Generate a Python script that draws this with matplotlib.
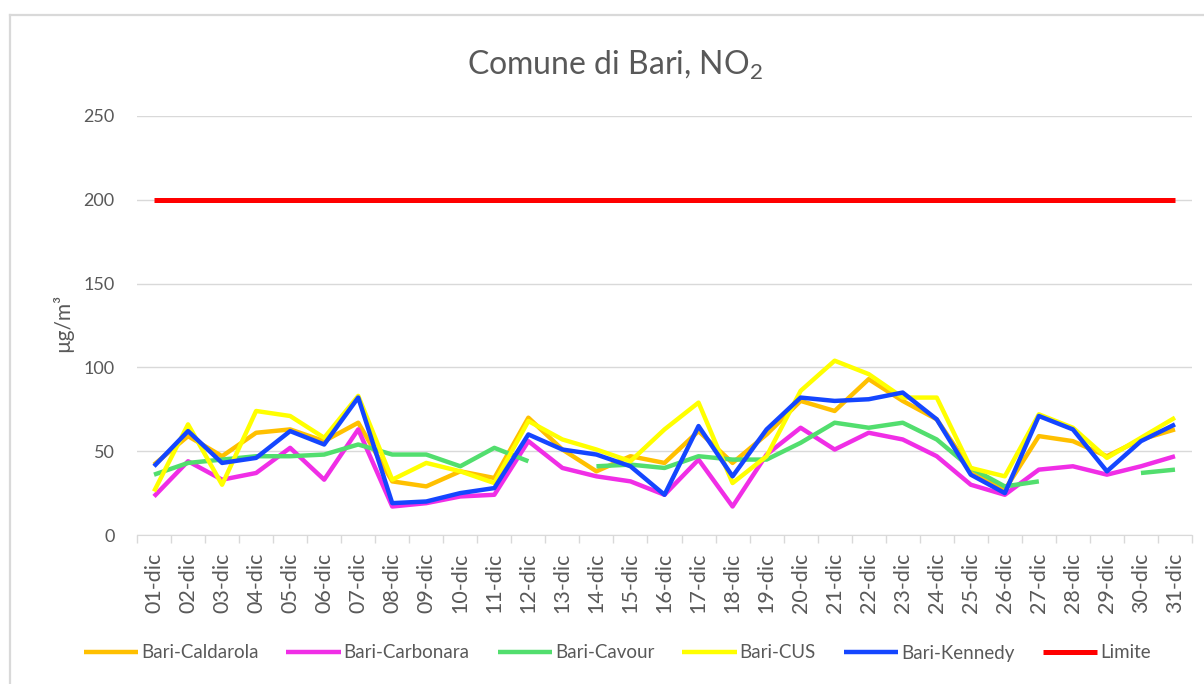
import numpy as np
import matplotlib.pyplot as plt
from matplotlib.lines import Line2D

plt.rcParams['font.family'] = ['Lato', 'DejaVu Sans']
plt.rcParams['mathtext.fontset'] = 'custom'
plt.rcParams['mathtext.rm'] = 'Lato'
plt.rcParams['mathtext.default'] = 'regular'

nan = np.nan
giorni = ['%02d-dic' % d for d in range(1, 32)]

caldarola = [42, 59, 47, 61, 63, 56, 67, 32, 29, 38, 34, 70, 51, 38, 47, 43,
             62, 43, 60, 80, 74, 93, 80, 69, 39, 27, 59, 56, 47, 57, 63]
carbonara = [23, 44, 33, 37, 52, 33, 63, 17, 19, 23, 24, 56, 40, 35, 32, 24,
             45, 17, 48, 64, 51, 61, 57, 47, 30, 24, 39, 41, 36, 41, 47]
cavour = [36, 43, 45, 47, 47, 48, 54, 48, 48, 41, 52, 44, nan, 41, 42, 40,
          47, 45, 45, 55, 67, 64, 67, 57, 40, 29, 32, nan, nan, 37, 39]
cus = [26, 66, 30, 74, 71, 58, 83, 33, 43, 38, 31, 68, 57, 51, 44, 63,
       79, 31, 47, 86, 104, 96, 82, 82, 40, 35, 72, 64, 46, 58, 70]
kennedy = [41, 62, 43, 46, 62, 54, 82, 19, 20, 25, 28, 60, 51, 48, 41, 24,
           65, 35, 63, 82, 80, 81, 85, 69, 36, 25, 71, 63, 38, 56, 66]
limite = [200] * 31

serie = [
    ('Bari-Caldarola', caldarola, '#FFC000'),
    ('Bari-Carbonara', carbonara, '#F02EE6'),
    ('Bari-Cavour', cavour, '#52DE6E'),
    ('Bari-CUS', cus, '#FFFF00'),
    ('Bari-Kennedy', kennedy, '#1446FF'),
    ('Limite', limite, '#FF0000'),
]

grigio = '#595959'
W, H = 1204, 684
fig = plt.figure(figsize=(W / 100, H / 100), dpi=100)

# cornice del grafico
fig.add_artist(Line2D([10 / W, 1], [1 - 15 / H, 1 - 15 / H], color='#d9d9d9', lw=1.6))
fig.add_artist(Line2D([10 / W, 10 / W], [0, 1 - 15 / H], color='#d9d9d9', lw=1.6))

ax = fig.add_axes([137 / W, 1 - 535 / H, (1192 - 137) / W, (535 - 116) / H])
x = np.arange(len(giorni))
for nome, val, col in serie:
    lw = 3.6 if nome == 'Limite' else 3.2
    ax.plot(x, val, color=col, lw=lw, label=nome, solid_capstyle='butt')

ax.set_xlim(-0.5, len(giorni) - 0.5)
ax.set_ylim(0, 250)
ax.set_yticks([0, 50, 100, 150, 200, 250])
ax.set_xticks(x)
ax.set_xticklabels(giorni, rotation=90)
ax.set_xticks(np.arange(-0.5, len(giorni)), minor=True)
ax.tick_params(axis='x', which='major', length=0, pad=13, labelsize=15.5, labelcolor=grigio)
ax.tick_params(axis='x', which='minor', length=6, color='#d9d9d9', width=1)
ax.tick_params(axis='y', length=0, pad=16, labelsize=13, labelcolor=grigio)
ax.yaxis.grid(True, color='#d9d9d9', lw=1)
ax.set_axisbelow(True)
for s in ['top', 'right', 'left']:
    ax.spines[s].set_visible(False)
ax.spines['bottom'].set_color('#d9d9d9')

fig.text(615 / W, 1 - 65 / H, 'Comune di Bari, NO$_2$', ha='center', va='center',
         fontsize=23, color=grigio)
fig.text(63 / W, 1 - 323 / H, 'µg/m³', rotation=90, ha='center', va='center',
         fontsize=15, color=grigio)

fig.legend(loc='center', bbox_to_anchor=(617 / W, 1 - 653 / H), ncol=6, frameon=False,
           handlelength=2.9, handletextpad=0.15, columnspacing=1.5,
           fontsize=13.5, labelcolor=grigio)

fig.savefig('out.png', dpi=100)
